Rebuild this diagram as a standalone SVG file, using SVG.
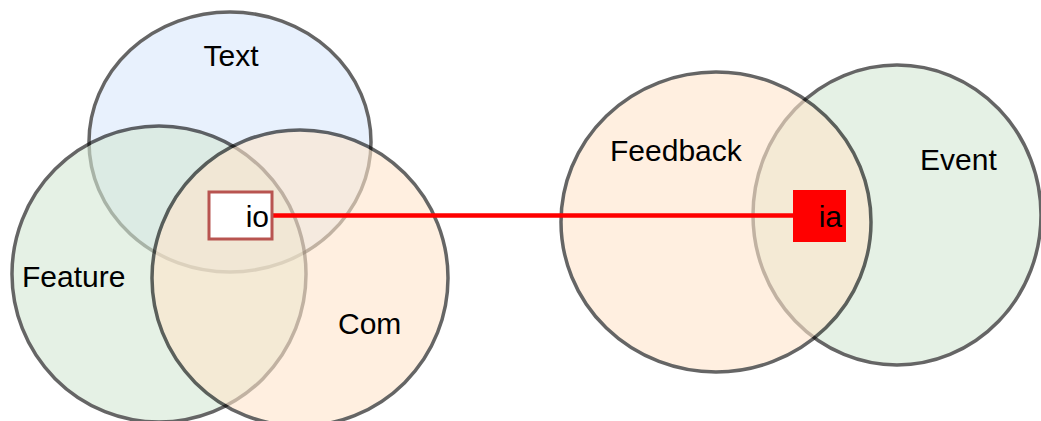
<svg xmlns="http://www.w3.org/2000/svg" width="1041" height="421" viewBox="0 0 1041 421">
<style>
.set{opacity:0.6;stroke:#000;stroke-width:3.5}
.lbl{font-family:"Liberation Sans",Arial,sans-serif;font-size:30px;fill:#000}
</style>
<rect width="1041" height="421" fill="#fff"/>
<g id="text-set"><ellipse class="set" cx="230" cy="142" rx="141" ry="130" fill="#dae8fc"/></g>
<g id="feature-set"><ellipse class="set" cx="159" cy="274" rx="147" ry="148" fill="#d5e8d4"/></g>
<g id="com-set"><ellipse class="set" cx="300" cy="278" rx="148" ry="148" fill="#ffe6cc"/></g>
<g id="event-set"><ellipse class="set" cx="897" cy="215" rx="144" ry="150" fill="#d5e8d4"/></g>
<g id="feedback-set"><ellipse class="set" cx="716" cy="222" rx="155" ry="150" fill="#ffe6cc"/></g>
<g id="labels">
<text class="lbl" x="231" y="66" text-anchor="middle">Text</text>
<text class="lbl" x="22" y="287">Feature</text>
<text class="lbl" x="338" y="334">Com</text>
<text class="lbl" x="610" y="161">Feedback</text>
<text class="lbl" x="920" y="170">Event</text>
</g>
<g id="connectors"><line x1="273" y1="215.5" x2="794" y2="215.5" stroke="#f00" stroke-width="4.5"/></g>
<g id="io"><rect x="209" y="192" width="63" height="47" fill="#fff" stroke="#b85450" stroke-width="3"/><text class="lbl" x="269" y="227" text-anchor="end">io</text></g>
<g id="ia"><rect x="793" y="190" width="53" height="52" fill="#f00"/><text class="lbl" x="842" y="227" text-anchor="end">ia</text></g>
</svg>
